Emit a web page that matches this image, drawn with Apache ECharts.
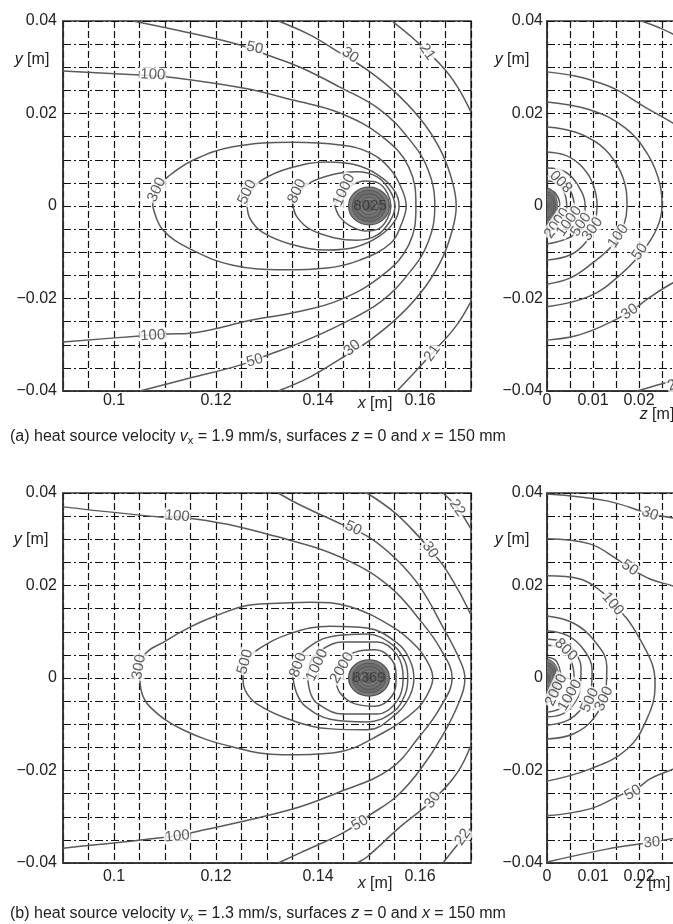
<!DOCTYPE html>
<html><head><meta charset="utf-8">
<script src="https://cdn.jsdelivr.net/npm/echarts@6/dist/echarts.min.js"></script>
<style>html,body{margin:0;padding:0;background:#fff}#c{width:673px;height:924px}</style>
</head><body><div id="c"></div>
<script>
// ---------- DATA (all coordinates in mm; axes are labelled in m) ----------
// x-y plane (z = 0), panel (a)  v = 1.9 mm/s
const A_21a = [[154.7,39.8],[159,35.9],[164.5,30],[167.5,25.5],[170,20.3]];
const A_21b = [[170,-20.6],[166.9,-26.2],[162.4,-31.8],[159,-35.9],[155.5,-40]];
const A_30 = [[132.2,40],[138.4,37],[144.3,33.1],[150.2,29],[156.1,23.6],[161,17.5],[164.5,11],[166.5,4.6],[167.1,0],[166.5,-4.5],[164.5,-11],[161,-17.5],[156.1,-23.6],[150.2,-29],[144.3,-33.1],[138.4,-37],[132.2,-40]];
const A_50 = [[103.7,40],[114.9,37.4],[124.7,34.8],[130.2,32.6],[136.5,30],[144.3,25.7],[152.2,20.8],[158,14.3],[161.6,7.8],[162.9,0],[161.6,-7.8],[158,-14.3],[152.2,-20.8],[144.3,-25.7],[136.5,-29.6],[130.2,-32.2],[124.7,-34.4],[114.9,-37.2],[105.1,-40]];
const A_100 = [[90,29.2],[105.1,28.3],[110.6,27.9],[125.3,25.5],[135.1,22.9],[144.3,20.1],[152.7,14.9],[157.8,8.4],[159.2,0],[157.8,-8.4],[152.7,-14.9],[144.3,-20.3],[135.1,-23.1],[127.3,-24.6],[114.9,-27.5],[110.6,-27.7],[105.1,-28.1],[90,-29.4]];
const A_300 = [[107.6,0],[108.2,3.5],[111,6.7],[115.5,9.9],[123.3,12.8],[135.1,13.8],[144.3,13.2],[150.2,11.5],[154.3,7.8],[156.5,3.5],[157.3,0],[156.5,-3.5],[154.3,-8],[148.2,-11.7],[141.8,-13.4],[133.1,-13.8],[123.3,-12.8],[115.3,-9.5],[109.6,-5.2],[107.6,0]];
const A_500 = [[126.1,0],[126.7,2.8],[129,5.6],[134.5,8.2],[141.8,9.5],[147.3,8.9],[151.8,6.7],[154.9,3.5],[155.9,0],[154.9,-3.5],[151.8,-6.7],[147.3,-8.9],[141.8,-9.5],[134.5,-8.2],[129,-5.6],[126.7,-2.8],[126.1,0]];
const A_800 = [[135.1,0],[135.9,2.4],[138.4,5],[143.3,6.9],[147.6,7.4],[151.6,6.3],[154.1,3.3],[155.1,0],[154.1,-3.3],[151.6,-6.3],[147.6,-7.4],[143.3,-6.9],[138.4,-5],[135.9,-2.4],[135.1,0]];
const A_1000 = [[143.3,0],[144.3,2.4],[146.3,4.3],[149.2,5.4],[151.8,5],[153.6,2.8],[154.3,0],[153.6,-2.8],[151.8,-5],[149.2,-5.4],[146.3,-4.3],[144.3,-2.4],[143.3,0]];
const A_core = [[150,0,4,4.1]];
const A_labels = [[108.4,3.5,'300',65],[126.1,3,'500',65],[135.9,3.2,'800',65],[145.1,3.5,'1000',65],[107.6,28.4,'100',-3],[107.6,-28,'100',3],[127.6,34.2,'50',-12],[127.6,-33.4,'50',15],[146.3,32.6,'30',-35],[146.7,-30.7,'30',40],[161.4,33.3,'21',-55],[162.4,-31.8,'21',55]];
const A_peak = [[150.2,0,'8025']];

// y-z plane (x = 150 mm), panel (a)
const AR_21a = [[20.5,40],[25,38.3],[30,35.8]];
const AR_21b = [[19.6,-40],[24,-38.7],[27.8,-37.6],[30,-36.5]];
const AR_30a = [[0,29],[6.1,28.1],[11.5,26.6],[15.2,25.1],[21.3,21.4],[27.4,17.9],[30,16.2]];
const AR_30b = [[30,-15.6],[27.4,-16.6],[22.4,-19.7],[18,-22.9],[11.5,-26.2],[6.1,-28.1],[0,-29]];
const AR_50 = [[0,22.5],[9.3,20.8],[17,16.9],[22,11],[24.6,4.5],[25,0],[23.9,-4.8],[20.7,-9.9],[15.9,-14.9],[9.3,-19.5],[0,-21.8]];
const AR_100 = [[0,17.1],[6.1,16],[11.5,13.2],[15.2,8.9],[17.2,3.5],[17.4,0],[16.7,-4.1],[14.5,-8.2],[9.3,-12.8],[5,-15.6],[0,-16.9]];
const AR_300 = [[0,11.7],[3.9,11],[7.2,8.9],[9.8,5.2],[10.9,0],[10.2,-4.3],[8.3,-8],[5,-10.6],[0,-11.7]];
const AR_500 = [[0,8.2],[3.9,7.4],[6.7,4.5],[8.3,0],[7.6,-3.5],[5.4,-6.5],[0,-8.2]];
const AR_800 = [[0,6.5],[2.8,5.8],[5,3.5],[5.9,0],[5,-3.5],[2.8,-5.6],[0,-6.5]];
const AR_1000 = [[0,5.4],[2.4,4.8],[3.9,2.6],[4.3,0],[3.7,-2.8],[2.2,-4.5],[0,-5.4]];
const AR_2000 = [[0,3.4],[1.8,2.8],[2.8,0],[1.8,-2.6],[0,-3.4]];
const AR_core = [[0,0,2.3,3.8]];
const AR_labels = [[3.3,5.5,'800',135],[2.2,-3.7,'2000',55],[4.8,-3.3,'1000',55],[7.4,-4,'500',55],[9.9,-5,'300',55],[15.5,-6.5,'100',55],[20.2,-9.9,'50',55],[18,-22.9,'30',35],[28,-38.5,'21',20]];

// x-y plane (z = 0), panel (b)  v = 1.3 mm/s
const B_22a = [[164.5,40],[167.3,36.8],[170,32.2]];
const B_22b = [[164.5,-40],[167.3,-36.1],[170,-32.4]];
const B_30a = [[149.6,40],[155.1,35.7],[160,30.3],[162,27.7],[164.5,24.4],[167.5,19],[170,13.6]];
const B_30b = [[170,-14.5],[167.3,-20.5],[162.5,-26.4],[156.1,-32.2],[149.6,-38.7],[147.6,-40]];
const B_50 = [[132.2,40],[136.5,37.4],[144.9,33.1],[150.2,30.3],[155.5,25.5],[160,19.7],[164.5,11],[167.8,3.9],[168.8,0],[167.8,-4.8],[164.5,-12.3],[160,-19.9],[155.5,-25.5],[150.2,-29.6],[144.9,-33.5],[136.5,-37.8],[132.2,-40]];
const B_100 = [[90,37],[109,34.8],[115.9,34.4],[134.5,29.8],[145.7,25.5],[154.1,19.7],[160,12.5],[163.9,6.5],[166.3,0],[163.9,-6.5],[160,-12.5],[154.1,-19.7],[144.3,-24.6],[134.5,-28.5],[114.9,-33.5],[110.4,-34.4],[90,-36.8]];
const B_300 = [[105.1,0],[105.7,4.5],[110.4,8.2],[114.9,11],[119.4,13.2],[126.7,15.8],[133.1,16.2],[138.4,16.4],[146.3,15.4],[154.7,11],[159.4,6.7],[161.8,2.8],[162.5,0],[161.8,-2.8],[159.4,-6.7],[152.7,-11.9],[142.9,-16.2],[133.1,-16.6],[123.3,-14.9],[113.5,-11.2],[107.1,-6.3],[105.3,-2.6],[105.1,0]];
const B_500 = [[125.3,0],[125.9,3.5],[128,6],[134.5,9.6],[142.4,11.2],[149.6,10.8],[155.5,7.6],[158,3.9],[158.8,0],[158,-3.9],[155.5,-7.6],[149.6,-11.2],[142.6,-11],[135,-9.2],[128,-5.6],[125.7,-2.6],[125.3,0]];
const B_800 = [[135.1,0],[135.9,3.5],[137.5,6.1],[142.4,8.9],[149.6,9.5],[154.7,7.1],[157.1,3.5],[157.6,0],[157.1,-3.5],[154.7,-7.4],[149.6,-9.5],[142.4,-8.9],[137.5,-6.1],[135.9,-3.5],[135.1,0]];
const B_1000 = [[138,0],[138.6,3.5],[140,5.6],[144.9,7.8],[151.6,7.8],[155.5,5],[156.7,0],[155.5,-5],[151.6,-7.8],[144.9,-7.8],[140,-5.6],[138.6,-3.5],[138,0]];
const B_2000 = [[143.5,0],[144.3,3.2],[147.3,5.6],[151.2,6.1],[154.5,3.9],[155.3,0],[154.5,-3.9],[151.2,-6.1],[147.3,-5.6],[144.3,-3.2],[143.5,0]];
const B_core = [[150,0,4,3.9]];
const B_labels = [[104.9,2.4,'300',80],[125.7,3.5,'500',75],[136.1,2.8,'800',70],[139.8,2.8,'1000',65],[144.7,2.2,'2000',60],[112.4,35,'100',-5],[112.4,-34.2,'100',5],[146.9,32.4,'50',-25],[148.2,-31.4,'50',30],[162,27.7,'30',-55],[162.5,-26.4,'30',55],[167.3,36.8,'22',-55],[168.4,-34.4,'22',55]];
const B_peak = [[150,0,'8369']];

// y-z plane (x = 150 mm), panel (b)
const BR_30a = [[0,39.8],[13,38.3],[22.4,35.5],[27.4,34.6],[30,33.9]];
const BR_30b = [[0,-39.8],[13,-37],[22.8,-35.5],[30,-34.2]];
const BR_50a = [[0,30.1],[9.3,29],[15.2,25.7],[18,23.8],[22.4,21.4],[27.4,19.9],[30,19]];
const BR_50b = [[0,-29.8],[9.3,-28.3],[16.5,-25.1],[18.7,-24.6],[22.4,-21.8],[27.4,-19.7],[30,-18.6]];
const BR_100 = [[0,22.1],[7.2,21.4],[12.2,18.4],[14.3,16],[17.4,12.8],[20.2,8.4],[23,2.6],[23.5,-1.7],[21.7,-8.9],[17.4,-15.4],[9.3,-19.7],[0,-22.3]];
const BR_300 = [[0,13.4],[5.7,11.9],[10,8.4],[13,2.6],[12.8,-2.6],[10,-8.9],[5.7,-12.1],[0,-13.2]];
const BR_500 = [[0,10.2],[4.6,9.1],[8,6.1],[9.8,1.7],[9.6,-2.6],[7.6,-6.5],[4.6,-9.1],[0,-10.2]];
const BR_800 = [[0,8.4],[3.5,7.8],[6.1,5.6],[7.4,2.2],[7.2,-2.6],[5.7,-5.8],[3.3,-7.8],[0,-8.4]];
const BR_1000 = [[0,7.1],[2.8,6.5],[5,4.3],[5.9,0],[5.2,-4.1],[3,-6.5],[0,-7.4]];
const BR_2000 = [[0,4.5],[2,3.7],[3,0],[2.2,-3.5],[0,-4.5]];
const BR_core = [[0,0,2.6,4]];
const BR_labels = [[22.4,35.5,'30',-20],[22.8,-35.6,'30',5],[18,23.8,'50',-35],[18.7,-24.8,'50',30],[14.3,16,'100',-50],[4.1,6.1,'800',-45],[2,-2.6,'2000',65],[5,-3.7,'1000',60],[9.3,-4.8,'500',65],[12.4,-4.5,'300',65]];

// axis ranges / tick labels (mm)
const xRange = [90,170], zRange = [0,30], yRange = [-40,40], tickStep = 5;
const xLabelled = [100,120,140,160], zLabelled = [0,10,20], yLabelled = [-40,-20,0,20,40];

const captionA = '(a) heat source velocity {i|v}{sub|x} = 1.9 mm/s, surfaces {i|z} = 0 and {i|x} = 150 mm';
const captionB = '(b) heat source velocity {i|v}{sub|x} = 1.3 mm/s, surfaces {i|z} = 0 and {i|x} = 150 mm';

// ---------- CHART ----------
const FONT = '"Liberation Sans", Arial, Helvetica, sans-serif';
const chart = echarts.init(document.getElementById('c'), null, {renderer:'canvas'});
function mm2m(v){ const r = Math.round(v); return r === 0 ? '0' : (r < 0 ? '\u2212' : '') + String(Math.abs(r)/1000); }

const grids = [
  {left:63, top:21, width:408, height:370},
  {left:547, top:21, width:138, height:370},
  {left:63, top:493, width:408, height:370},
  {left:547, top:493, width:138, height:370}
].map(g => Object.assign(g, {show:true, borderColor:'#333', borderWidth:1.5, containLabel:false, outerBoundsMode:'none'}));

function xAx(i, isZ, margin){
  const lab = isZ ? zLabelled : xLabelled;
  const rg = isZ ? zRange : xRange;
  return {gridIndex:i, type:'value', min:rg[0], max:rg[1], interval:tickStep,
    axisLine:{show:true, onZero:false, lineStyle:{color:'#333', width:1.5}},
    axisTick:{show:false},
    splitLine:{show:true, lineStyle:{color:'#111', width:1.2, type:[7,3]}},
    axisLabel:{show:true, interval:0, margin:margin, fontSize:16, color:'#222', fontFamily:FONT,
      showMinLabel:true, showMaxLabel:true, hideOverlap:false,
      formatter: v => lab.indexOf(Math.round(v)) >= 0 ? mm2m(v) : ''}};
}
function yAx(i, top){
  return {gridIndex:i, type:'value', min:yRange[0], max:yRange[1], interval:tickStep,
    axisLine:{show:true, onZero:false, lineStyle:{color:'#333', width:1.5}},
    axisTick:{show:false},
    splitLine:{show:true, lineStyle:{color:'#111', width:1.2, type:[8,3,2,3]}},
    axisLabel:{show:true, interval:0, margin: i%2===0 ? 6 : 4, fontSize:16, color:'#222', fontFamily:FONT,
      padding: top ? [0,0,7,0] : [0,0,0,0],
      showMinLabel:true, showMaxLabel:true,
      formatter: v => yLabelled.indexOf(Math.round(v)) >= 0 ? mm2m(v) : ''}};
}

const series = [];
function line(i, pts){
  series.push({type:'line', xAxisIndex:i, yAxisIndex:i, data:pts, smooth:0.4, showSymbol:false, symbol:'none',
    silent:true, clip:true, animation:false, z:3, lineStyle:{color:'#5a5a5a', width:1.5}});
}
function labels(i, arr, bg){
  series.push({type:'scatter', xAxisIndex:i, yAxisIndex:i, symbolSize:1, silent:true, animation:false, z:7, clip:false,
    itemStyle:{color:'rgba(0,0,0,0)'},
    label:{show:true, position:'inside', fontSize:15, color:'#333', fontFamily:FONT,
      backgroundColor: bg ? '#fff' : 'transparent', padding:[0,1], lineHeight:15},
    data: arr.map(a => ({value:[a[0],a[1]], label:{formatter:a[2], rotate:a[3] || 0}}))});
}
function core(i, arr){
  series.push({type:'custom', xAxisIndex:i, yAxisIndex:i, clip:true, silent:true, animation:false, z:5, data:arr,
    renderItem:(p, api) => {
      const c = api.coord([api.value(0), api.value(1)]);
      const s = api.size([api.value(2), api.value(3)]);
      const sx = s[0]/s[1], r = s[1];
      const ch = [{type:'circle', shape:{cx:0, cy:0, r:r}, style:{
        fill:new echarts.graphic.RadialGradient(0.5,0.5,0.5,[
          {offset:0,color:'#555'},{offset:0.35,color:'#7a7a7a'},{offset:0.7,color:'#6a6a6a'},{offset:1,color:'#8a8a8a'}]),
        stroke:'#555', lineWidth:1.2}}];
      [0.82,0.64,0.46,0.28].forEach(f => ch.push({type:'circle', shape:{cx:0,cy:0,r:r*f}, style:{fill:null, stroke:'#505050', lineWidth:0.8}}));
      return {type:'group', x:c[0], y:c[1], scaleX:sx, children:ch};
    }});
}

[A_21a,A_21b,A_30,A_50,A_100,A_300,A_500,A_800,A_1000].forEach(d => line(0,d));
[AR_21a,AR_21b,AR_30a,AR_30b,AR_50,AR_100,AR_300,AR_500,AR_800,AR_1000,AR_2000].forEach(d => line(1,d));
[B_22a,B_22b,B_30a,B_30b,B_50,B_100,B_300,B_500,B_800,B_1000,B_2000].forEach(d => line(2,d));
[BR_30a,BR_30b,BR_50a,BR_50b,BR_100,BR_300,BR_500,BR_800,BR_1000,BR_2000].forEach(d => line(3,d));
core(0, A_core); core(1, AR_core); core(2, B_core); core(3, BR_core);
labels(0, A_labels, true); labels(1, AR_labels, true); labels(2, B_labels, true); labels(3, BR_labels, true);
labels(0, A_peak, false); labels(2, B_peak, false);

const rich = {i:{fontStyle:'italic', fontSize:16, fontFamily:FONT, color:'#222'},
              sub:{fontSize:11, fontFamily:FONT, color:'#222', padding:[8,0,0,0]}};
function txt(x, y, t, align){
  return {type:'text', x:x, y:y, z:10, style:{text:t, rich:rich, fontSize:16, fontFamily:FONT, fill:'#222',
    align:align || 'center', verticalAlign:'middle', textAlign:align || 'center', textVerticalAlign:'middle'}};
}

chart.setOption({
  animation:false,
  grid: grids,
  xAxis: [xAx(0,false,2), xAx(1,true,2), xAx(2,false,6), xAx(3,true,6)],
  yAxis: [yAx(0,true), yAx(1,true), yAx(2,false), yAx(3,false)],
  series: series,
  graphic: [
    txt(32,60,'{i|y} [m]'), txt(512,60,'{i|y} [m]'),
    txt(31,540,'{i|y} [m]'), txt(512,540,'{i|y} [m]'),
    txt(375,404,'{i|x} [m]'), txt(657,415,'{i|z} [m]'),
    txt(375,884,'{i|x} [m]'), txt(653,884,'{i|z} [m]'),
    txt(10,437,captionA,'left'), txt(10,914,captionB,'left')
  ]
});
</script></body></html>
